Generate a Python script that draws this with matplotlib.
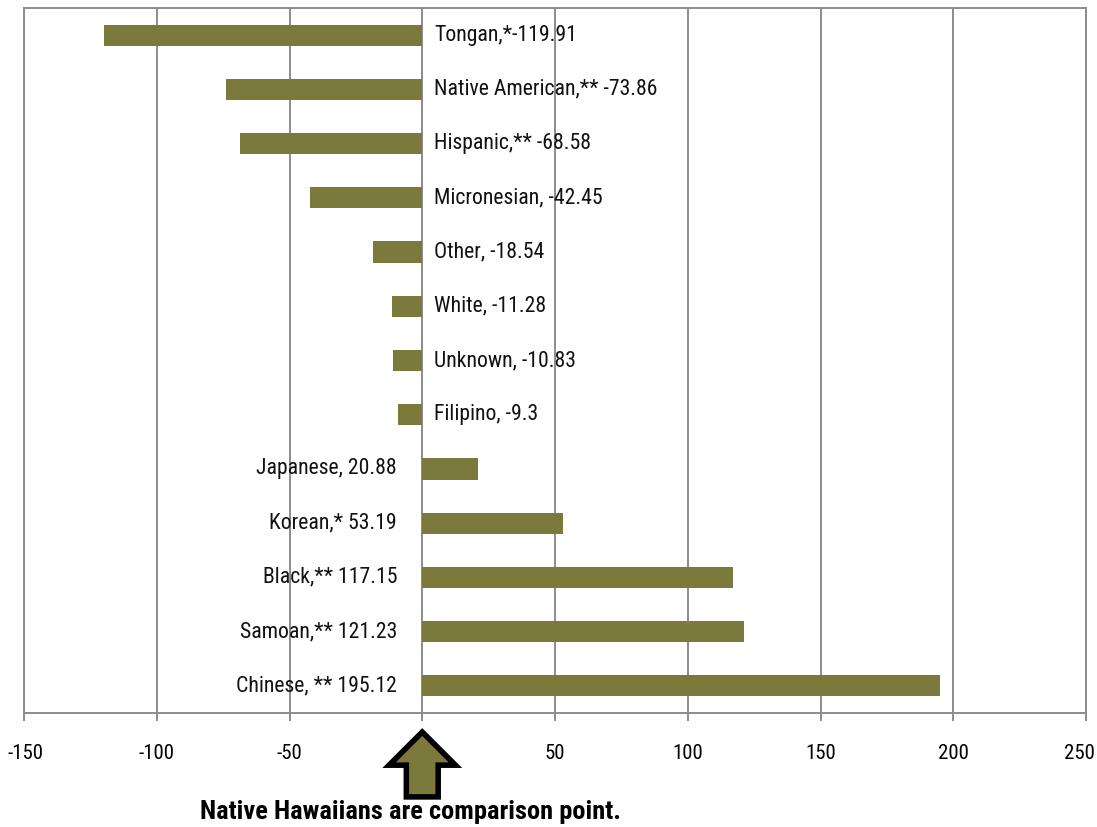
import matplotlib
matplotlib.use("Agg")
import matplotlib.pyplot as plt
from matplotlib import font_manager
from matplotlib.patches import Polygon
from matplotlib.transforms import ScaledTranslation

categories = ["Tongan", "Native American", "Hispanic", "Micronesian", "Other", "White",
              "Unknown", "Filipino", "Japanese", "Korean", "Black", "Samoan", "Chinese"]
values = [-119.91, -73.86, -68.58, -42.45, -18.54, -11.28, -10.83, -9.3,
          20.88, 53.19, 117.15, 121.23, 195.12]
labels = ["Tongan,*-119.91", "Native American,** -73.86", "Hispanic,** -68.58",
          "Micronesian, -42.45", "Other, -18.54", "White, -11.28", "Unknown, -10.83",
          "Filipino, -9.3", "Japanese, 20.88", "Korean,* 53.19", "Black,** 117.15",
          "Samoan,** 121.23", "Chinese, ** 195.12"]
xticks = [-150, -100, -50, 0, 50, 100, 150, 200, 250]
caption = "Native Hawaiians are comparison point."

names = {f.name for f in font_manager.fontManager.ttflist}
fam = "DejaVu Sans"
for cand in ["Roboto Condensed", "Liberation Sans Narrow", "DejaVu Sans Condensed", "Open Sans Condensed"]:
    if cand in names:
        fam = cand
        break
plt.rcParams["font.family"] = [fam, "DejaVu Sans"]

fig = plt.figure(figsize=(10.97, 8.27), dpi=100)
ax = fig.add_axes([24/1097, 114/827, (1086-24)/1097, (713-8)/827])

bar_color = "#7b7a3c"
grid_color = "#8c8c8c"
ypos = list(range(len(categories)))
ax.barh(ypos, values, height=0.39, color=bar_color, zorder=3)
ax.set_ylim(len(categories) - 0.5, -0.5)
ax.set_xlim(-150, 250)
ax.set_xticks(xticks)
ax.set_xticklabels([str(t) for t in xticks], fontsize=15)
ax.set_yticks([])
ax.xaxis.grid(True, color=grid_color, linewidth=1.4, zorder=0)
ax.set_axisbelow(True)
for s in ax.spines.values():
    s.set_color(grid_color)
    s.set_linewidth(1.4)
ax.tick_params(axis="x", length=6, width=1.4, color=grid_color, pad=16, direction="out")

tl = ax.get_xticklabels()
tl[-1].set_transform(tl[-1].get_transform() + ScaledTranslation(-7/100, 0, fig.dpi_scale_trans))
tl[0].set_transform(tl[0].get_transform() + ScaledTranslation(2/100, 0, fig.dpi_scale_trans))

for y, v, lab in zip(ypos, values, labels):
    if v < 0:
        ax.text(4.5, y, lab, ha="left", va="center", fontsize=15.7, color="#111111", zorder=4)
    else:
        ax.text(-9.5, y, lab, ha="right", va="center", fontsize=15.7, color="#111111", zorder=4)

# comparison arrow below zero
trans = ax.get_xaxis_transform()
hw, sw = 12.5, 6.0
ytop, yneck, ybot = -0.027, -0.074, -0.119
arrow = Polygon([(0, ytop), (hw, yneck), (sw, yneck), (sw, ybot), (-sw, ybot),
                 (-sw, yneck), (-hw, yneck)], closed=True, transform=trans,
                facecolor=bar_color, edgecolor="black", linewidth=4, clip_on=False,
                joinstyle="miter")
ax.add_patch(arrow)

fig.text(410/1097, 1 - 812/827, caption, ha="center", va="center", fontsize=19,
         fontweight="bold", color="black")

fig.savefig("out.png", dpi=100, facecolor="white")
